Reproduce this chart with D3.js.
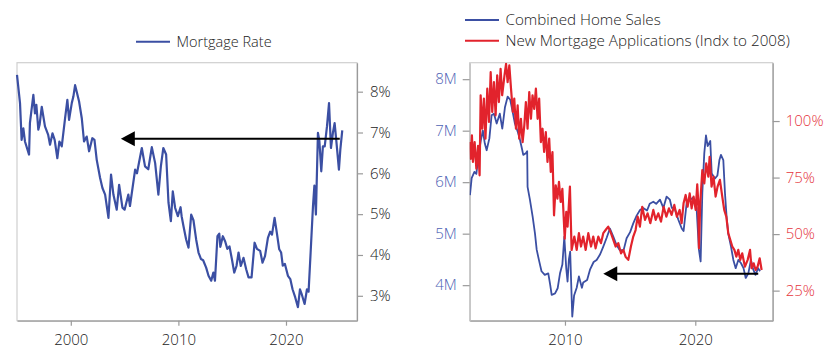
<!DOCTYPE html>
<html>
<head>
<meta charset="utf-8">
<script src="https://cdn.jsdelivr.net/npm/d3@7"></script>
<style>
  body { margin: 0; background: #fff; }
  svg { display: block; font-family: "Open Sans", Lato, sans-serif; font-weight: 300; }
</style>
</head>
<body>
<svg id="chart" width="840" height="361"></svg>
<script>
// mortgage rate, [year, percent]
const mortgageRate = [
  [1995.0, 8.41], [1995.28, 7.72], [1995.43, 6.82], [1995.59, 7.1], [1995.74, 6.78], [1996.12, 6.46],
  [1996.2, 7.23], [1996.52, 7.92], [1996.67, 7.47], [1996.8, 7.68], [1996.98, 7.07], [1997.1, 7.19],
  [1997.3, 7.63], [1997.6, 7.15], [1997.9, 6.94], [1998.07, 6.7], [1998.3, 6.98], [1998.5, 6.82],
  [1998.75, 6.37], [1998.94, 6.78], [1999.16, 6.66], [1999.47, 7.35], [1999.68, 7.8], [1999.84, 7.31],
  [2000.09, 7.72], [2000.24, 7.88], [2000.4, 8.16], [2000.55, 8.0], [2000.77, 7.76], [2001.02, 7.35],
  [2001.23, 6.78], [2001.48, 6.9], [2001.7, 6.54], [2002.0, 6.86], [2002.2, 6.82], [2002.41, 6.33],
  [2002.72, 5.89], [2002.94, 5.64], [2003.19, 5.48], [2003.5, 4.91], [2003.74, 5.97], [2003.96, 5.48],
  [2004.27, 5.11], [2004.49, 5.72], [2004.8, 5.16], [2005.0, 5.11], [2005.35, 5.48], [2005.5, 5.2],
  [2005.98, 6.09], [2006.15, 6.0], [2006.6, 6.62], [2006.9, 6.17], [2007.2, 6.1], [2007.53, 6.64],
  [2007.84, 6.25], [2008.14, 5.48], [2008.37, 6.17], [2008.6, 6.62], [2008.86, 6.46], [2009.08, 5.28],
  [2009.3, 4.83], [2009.48, 5.56], [2009.7, 5.15], [2009.95, 4.95], [2010.2, 5.17], [2010.3, 4.95],
  [2010.47, 4.71], [2010.72, 4.38], [2010.94, 4.18], [2011.19, 4.99], [2011.4, 4.85], [2011.65, 4.38],
  [2011.87, 4.06], [2012.1, 3.9], [2012.3, 3.87], [2012.58, 3.69], [2012.8, 3.49], [2013.05, 3.37],
  [2013.25, 3.57], [2013.4, 3.37], [2013.63, 4.46], [2013.8, 4.52], [2013.9, 4.2], [2014.13, 4.46],
  [2014.35, 4.33], [2014.55, 4.15], [2014.75, 4.21], [2014.97, 3.9], [2015.19, 3.57], [2015.4, 3.73],
  [2015.59, 4.06], [2015.8, 3.73], [2016.05, 3.93], [2016.3, 3.65], [2016.52, 3.45], [2016.8, 3.45],
  [2017.08, 4.3], [2017.3, 4.15], [2017.6, 4.1], [2017.82, 3.81], [2018.05, 3.97], [2018.32, 4.42],
  [2018.53, 4.57], [2018.7, 4.5], [2018.94, 4.91], [2019.15, 4.54], [2019.37, 4.14], [2019.55, 4.06],
  [2019.7, 3.74], [2019.9, 3.78], [2020.18, 3.49], [2020.4, 3.41], [2020.61, 3.16], [2020.86, 2.96],
  [2021.11, 2.72], [2021.3, 3.16], [2021.45, 3.05], [2021.73, 2.8], [2021.95, 3.16], [2022.1, 3.1],
  [2022.29, 4.06], [2022.51, 5.2], [2022.64, 5.7], [2022.78, 4.99], [2022.97, 6.99], [2023.1, 6.8],
  [2023.28, 6.05], [2023.43, 6.66], [2023.6, 6.66], [2023.81, 7.15], [2024.0, 7.72], [2024.18, 6.62],
  [2024.36, 6.99], [2024.52, 7.23], [2024.67, 6.82], [2024.92, 6.09], [2025.05, 6.58], [2025.23, 7.05]
]

// combined home sales, [year, millions]
const homeSales = [
  [2002.71, 5.75], [2002.84, 6.08], [2003.05, 6.2], [2003.2, 6.16], [2003.35, 6.49], [2003.55, 6.82],
  [2003.7, 7.0], [2003.85, 6.75], [2003.99, 6.62], [2004.2, 6.85], [2004.37, 7.3], [2004.55, 7.33],
  [2004.76, 7.14], [2005.0, 7.33], [2005.19, 7.04], [2005.4, 7.46], [2005.6, 7.66], [2005.8, 7.6],
  [2005.96, 7.4], [2006.16, 7.14], [2006.4, 6.96], [2006.55, 6.82], [2006.7, 6.65], [2006.8, 6.53],
  [2007.0, 6.56], [2007.1, 6.6], [2007.13, 5.91], [2007.31, 5.66], [2007.52, 5.33], [2007.7, 5.0],
  [2007.83, 4.69], [2008.0, 4.49], [2008.2, 4.27], [2008.45, 4.2], [2008.72, 4.23], [2008.87, 4.0],
  [2008.98, 3.81], [2009.24, 3.84], [2009.44, 3.94], [2009.62, 4.23], [2009.8, 4.4], [2009.95, 4.94],
  [2010.1, 4.32], [2010.2, 4.07], [2010.3, 4.5], [2010.4, 4.65], [2010.56, 3.39], [2010.7, 3.8],
  [2010.9, 3.95], [2011.07, 4.17], [2011.3, 3.95], [2011.4, 4.05], [2011.7, 4.1], [2011.92, 4.3],
  [2012.2, 4.45], [2012.43, 4.49], [2012.7, 4.6], [2012.94, 4.75], [2013.2, 4.92], [2013.45, 5.1],
  [2013.7, 4.95], [2013.96, 4.78], [2014.2, 4.68], [2014.5, 4.68], [2014.73, 4.91], [2015.0, 5.03],
  [2015.24, 5.2], [2015.5, 5.35], [2015.76, 5.46], [2016.0, 5.5], [2016.3, 5.45], [2016.5, 5.58],
  [2016.78, 5.62], [2017.0, 5.58], [2017.29, 5.66], [2017.55, 5.5], [2017.8, 5.72], [2018.05, 5.66],
  [2018.2, 5.5], [2018.4, 5.5], [2018.7, 5.27], [2018.96, 5.1], [2019.1, 5.05], [2019.34, 5.6],
  [2019.6, 5.66], [2019.85, 5.7], [2020.1, 5.5], [2020.28, 4.69], [2020.41, 4.46], [2020.54, 5.79],
  [2020.69, 6.56], [2020.82, 6.91], [2020.95, 6.7], [2021.15, 6.8], [2021.26, 6.17], [2021.5, 6.07],
  [2021.7, 6.13], [2021.85, 6.43], [2021.97, 6.53], [2022.15, 6.43], [2022.28, 5.78], [2022.4, 5.33],
  [2022.53, 5.0], [2022.74, 4.75], [2022.92, 4.49], [2023.1, 4.33], [2023.3, 4.49], [2023.5, 4.43],
  [2023.7, 4.33], [2023.87, 4.14], [2024.07, 4.23], [2024.27, 4.49], [2024.45, 4.3], [2024.62, 4.2],
  [2024.82, 4.33], [2024.97, 4.27]
]

// new mortgage applications indexed to 2008, [year, percent]
const mortgageApps = [
  [2002.69, 90.7], [2002.77, 83.3], [2002.86, 93.7], [2002.94, 81.9], [2003.07, 90.7], [2003.2, 78.9],
  [2003.33, 89], [2003.45, 76], [2003.53, 111.4], [2003.66, 96.6], [2003.78, 109.9], [2003.9, 92.2],
  [2004.04, 114.3], [2004.17, 99.6], [2004.3, 121.6], [2004.42, 104], [2004.55, 117.2], [2004.68, 102.5],
  [2004.8, 120.2], [2004.93, 108.4], [2005.06, 123.1], [2005.18, 111.4], [2005.36, 120.2], [2005.48, 125.3],
  [2005.6, 117.2], [2005.73, 124.6], [2005.86, 114.3], [2006.0, 104], [2006.11, 109.9], [2006.24, 96.6],
  [2006.37, 106.9], [2006.49, 92.2], [2006.62, 101], [2006.75, 90.7], [2006.88, 98.1], [2007.0, 108.4],
  [2007.13, 96.6], [2007.26, 112.8], [2007.39, 101], [2007.51, 111.4], [2007.64, 105.4], [2007.77, 114.3],
  [2007.9, 101], [2008.02, 109.9], [2008.15, 90.7], [2008.28, 96.6], [2008.4, 86.3], [2008.53, 95.1],
  [2008.66, 81.9], [2008.79, 92.2], [2008.91, 77.5], [2009.04, 86.3], [2009.16, 58.3], [2009.29, 71.6],
  [2009.42, 65.7], [2009.54, 73.1], [2009.67, 64.2], [2009.8, 70], [2009.98, 48], [2010.1, 59.8],
  [2010.2, 53.3], [2010.38, 71], [2010.51, 43], [2010.72, 48.9], [2010.9, 43], [2011.07, 50.4],
  [2011.23, 44.5], [2011.4, 48.9], [2011.59, 43], [2011.79, 50.4], [2012.0, 44.5], [2012.17, 48.9],
  [2012.35, 43.7], [2012.56, 48.9], [2012.76, 46], [2012.94, 50.4], [2013.12, 51.8], [2013.32, 53.3],
  [2013.53, 50.4], [2013.71, 47.4], [2013.89, 44.5], [2014.09, 46], [2014.3, 41.5], [2014.48, 43],
  [2014.65, 40], [2014.86, 38.6], [2015.06, 44.5], [2015.24, 48.9], [2015.42, 51.8], [2015.58, 57.7],
  [2015.75, 53.3], [2015.93, 62.1], [2016.14, 56.3], [2016.34, 59.2], [2016.55, 54.8], [2016.78, 60.7],
  [2016.96, 56.3], [2017.16, 59.2], [2017.37, 55.5], [2017.57, 62.1], [2017.78, 57.7], [2017.98, 61.4],
  [2018.18, 58.5], [2018.39, 62.9], [2018.59, 57.7], [2018.8, 60.7], [2018.95, 54.8], [2019.1, 63.6],
  [2019.26, 67.3], [2019.41, 62.1], [2019.57, 68], [2019.72, 61.4], [2019.87, 66.6], [2020.03, 60.7],
  [2020.15, 72], [2020.22, 65], [2020.28, 43.7], [2020.38, 63.6], [2020.54, 78.3], [2020.69, 72.4],
  [2020.84, 81.3], [2021.0, 75.4], [2021.1, 84.2], [2021.25, 71], [2021.4, 75.4], [2021.56, 66.6],
  [2021.71, 71], [2021.89, 74], [2022.07, 66.6], [2022.22, 60.7], [2022.38, 57.7], [2022.53, 50.4],
  [2022.69, 47.4], [2022.84, 44.5], [2023.0, 43], [2023.15, 40], [2023.3, 43], [2023.45, 38.6],
  [2023.6, 41.5], [2023.81, 35.6], [2024.02, 38.6], [2024.2, 43], [2024.32, 34.9], [2024.48, 37.1],
  [2024.63, 34.1], [2024.78, 35.6], [2024.94, 39.3], [2025.09, 34.1]
]

const rateTicks = [3, 4, 5, 6, 7, 8]
const rateYears = [2000, 2010, 2020]
const salesTicks = [4, 5, 6, 7, 8]
const appsTicks = [25, 50, 75, 100]
const salesYears = [2010, 2020]

// arrows: [fromYear, toYear, level]
const rateArrow = [2025.0, 2004.65, 6.85]
const salesArrow = [2024.83, 2012.94, 4.22]

const blue = '#3b4fa3'
const red = '#e2232c'
const svg = d3.select('#chart')

const drawFrame = (g, x0, x1, y0, y1) => {
    g.append('rect')
        .attr('x', x0).attr('y', y0)
        .attr('width', x1 - x0).attr('height', y1 - y0)
        .attr('fill', 'none')
        .attr('stroke', '#cfcfcf')
        .attr('stroke-width', 1.2)
}

const styleAxis = (axis, color) => {
    axis.select('.domain').attr('stroke', '#9a9a9a').attr('stroke-width', 1.2)
    axis.selectAll('.tick line').attr('stroke', '#9a9a9a').attr('stroke-width', 1.2)
    axis.selectAll('.tick text')
        .attr('fill', color)
        .style('font-size', '15px')
        .style('font-family', '"Open Sans", sans-serif')
        .style('font-weight', 300)
}

const drawArrow = (g, x, y, arrow) => {
    const xs = x(arrow[0]), xe = x(arrow[1]), yy = y(arrow[2])
    g.append('line')
        .attr('x1', xs).attr('x2', xe + 10)
        .attr('y1', yy).attr('y2', yy)
        .attr('stroke', '#000').attr('stroke-width', 2)
    g.append('path')
        .attr('d', `M${xe},${yy} L${xe + 14},${yy - 7.5} L${xe + 14},${yy + 7.5} Z`)
        .attr('fill', '#000')
}

// ---------- left chart: mortgage rate ----------
const L = { x0: 17, x1: 357, y0: 62.7, y1: 320.7 }
const lx = d3.scaleLinear().domain([1995, 2026.6]).range([L.x0, L.x1])
const ly = d3.scaleLinear().domain([2.39, 8.71]).range([L.y1, L.y0])
const left = svg.append('g')

drawFrame(left, L.x0, L.x1, L.y0, L.y1)

const lxAxis = left.append('g')
    .attr('transform', `translate(0,${L.y1})`)
    .call(d3.axisBottom(lx).tickValues(rateYears).tickFormat(d3.format('d')).tickSize(5).tickPadding(9).tickSizeOuter(0))
styleAxis(lxAxis, '#222')

const lyAxis = left.append('g')
    .attr('transform', `translate(${L.x1},0)`)
    .call(d3.axisRight(ly).tickValues(rateTicks).tickFormat(d => d + '%').tickSize(6).tickPadding(7).tickSizeOuter(0))
styleAxis(lyAxis, '#222')

left.append('path')
    .datum(mortgageRate)
    .attr('fill', 'none')
    .attr('stroke', blue)
    .attr('stroke-width', 2.2)
    .attr('stroke-linejoin', 'round')
    .attr('d', d3.line().x(d => lx(d[0])).y(d => ly(d[1])))

drawArrow(left, lx, ly, rateArrow)

// legend
left.append('line').attr('x1', 136).attr('x2', 170).attr('y1', 41.7).attr('y2', 41.7)
    .attr('stroke', blue).attr('stroke-width', 2)
left.append('text').attr('x', 176.5).attr('y', 46.7)
    .attr('fill', '#222').style('font-size', '14.5px').text('Mortgage Rate')

// ---------- right chart: home sales vs applications ----------
const R = { x0: 469.7, x1: 772.7, y0: 62.7, y1: 320.7 }
const rx = d3.scaleLinear().domain([2002.69, 2025.94]).range([R.x0, R.x1])
const ryL = d3.scaleLinear().domain([3.31, 8.32]).range([R.y1, R.y0])
const ryR = d3.scaleLinear().domain([11.7, 125.8]).range([R.y1, R.y0])
const right = svg.append('g')

svg.append('clipPath').attr('id', 'rclip')
    .append('rect').attr('x', R.x0).attr('y', R.y0).attr('width', R.x1 - R.x0).attr('height', R.y1 - R.y0)

drawFrame(right, R.x0, R.x1, R.y0, R.y1)

const rxAxis = right.append('g')
    .attr('transform', `translate(0,${R.y1})`)
    .call(d3.axisBottom(rx).tickValues(salesYears).tickFormat(d3.format('d')).tickSize(5).tickPadding(9).tickSizeOuter(0))
styleAxis(rxAxis, '#222')

const ryLAxis = right.append('g')
    .attr('transform', `translate(${R.x0},0)`)
    .call(d3.axisLeft(ryL).tickValues(salesTicks).tickFormat(d => d + 'M').tickSize(7).tickPadding(6).tickSizeOuter(0))
styleAxis(ryLAxis, '#4d62b4')
ryLAxis.select('.domain').attr('stroke', '#bdbdbd')

const ryRAxis = right.append('g')
    .attr('transform', `translate(${R.x1},0)`)
    .call(d3.axisRight(ryR).tickValues(appsTicks).tickFormat(d => d + '%').tickSize(7).tickPadding(6).tickSizeOuter(0))
styleAxis(ryRAxis, '#e5343b')

const plot = right.append('g').attr('clip-path', 'url(#rclip)')

plot.append('path')
    .datum(homeSales)
    .attr('fill', 'none')
    .attr('stroke', blue)
    .attr('stroke-width', 1.8)
    .attr('stroke-linejoin', 'round')
    .attr('d', d3.line().x(d => rx(d[0])).y(d => ryL(d[1])))

plot.append('path')
    .datum(mortgageApps)
    .attr('fill', 'none')
    .attr('stroke', red)
    .attr('stroke-width', 2.2)
    .attr('stroke-linejoin', 'round')
    .attr('d', d3.line().x(d => rx(d[0])).y(d => ryR(d[1])))

drawArrow(right, rx, ryL, salesArrow)

// legend
const legendItems = [['Combined Home Sales', blue], ['New Mortgage Applications (Indx to 2008)', red]]
legendItems.forEach((d, i) => {
    const yy = 20 + i * 20.7
    right.append('line').attr('x1', 465).attr('x2', 499).attr('y1', yy).attr('y2', yy)
        .attr('stroke', d[1]).attr('stroke-width', 2)
    right.append('text').attr('x', 505.5).attr('y', yy + 5.2)
        .attr('fill', '#222').style('font-size', '15.2px').text(d[0])
})
</script>
</body>
</html>
